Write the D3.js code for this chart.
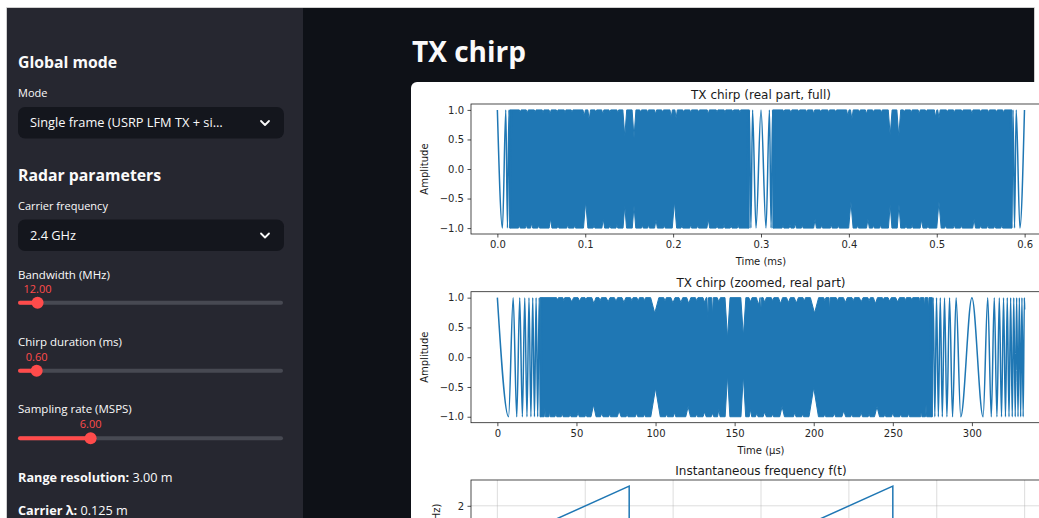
<!DOCTYPE html>
<html><head><meta charset="utf-8">
<script src="https://cdn.jsdelivr.net/npm/d3@7"></script>
<style>
html,body{margin:0;padding:0;background:#fff;overflow:hidden;}
svg{display:block;}
</style></head><body>
<svg id="root" width="1039" height="518"></svg>
<script>
// ================= DATA =================
const pageTitle = "TX chirp";
const sectionHeadings = ["Global mode", "Radar parameters"];
const selectLabels = ["Mode", "Carrier frequency"];
const selectValues = ["Single frame (USRP LFM TX + si…", "2.4 GHz"];
const sliderLabels = ["Bandwidth (MHz)", "Chirp duration (ms)", "Sampling rate (MSPS)"];
const sliderValues = [12.00, 0.60, 6.00];
const sliderMins = [1, 0.1, 1];
const sliderMaxs = [150, 7.2, 19.25];
const summaryKeys = ["Range resolution:", "Carrier λ:"];
const summaryValues = ["3.00 m", "0.125 m"];

const chartTitles = ["TX chirp (real part, full)", "TX chirp (zoomed, real part)", "Instantaneous frequency f(t)"];
const xAxisLabels = ["Time (ms)", "Time (µs)", "Time (ms)"];
const yAxisLabels = ["Amplitude", "Amplitude", "Frequency (MHz)"];
const fullTicksX = [0, 0.1, 0.2, 0.3, 0.4, 0.5, 0.6];
const zoomTicksX = [0, 50, 100, 150, 200, 250, 300];
const ampTicks = [-1, -0.5, 0, 0.5, 1];
const freqTicks = [-2, 0, 2];

// Chart 1: full chirp, time in ms (data 0 .. 0.6)
const fullExtent = [0, 0.6];
const fullDenseBands = [[0.0140, 0.2865], [0.3135, 0.5855]];
// [time, notch tip amplitude, notch half width] of white notches in the dense band
const fullTopNotches = [
  [0.026,0.96,0.001],[0.034,0.95,0.0012],[0.043,0.96,0.001],[0.052,0.95,0.001],[0.060,0.93,0.0012],
  [0.068,0.96,0.001],[0.077,0.95,0.001],[0.085,0.96,0.001],[0.0988,0.9,0.0014],[0.1045,0.83,0.0015],
  [0.112,0.96,0.001],[0.120,0.93,0.0012],[0.128,0.96,0.001],[0.137,0.95,0.001],[0.145,0.55,0.0022],
  [0.1555,0.53,0.0022],[0.163,0.96,0.001],[0.171,0.95,0.001],[0.180,0.93,0.0012],[0.188,0.96,0.001],
  [0.1978,0.88,0.0014],[0.2034,0.86,0.0014],[0.212,0.96,0.001],[0.220,0.95,0.001],[0.229,0.96,0.001],
  [0.240,0.93,0.0012],[0.250,0.96,0.001],[0.259,0.95,0.001],[0.268,0.96,0.001],[0.276,0.95,0.001],
  [0.326,0.96,0.001],[0.334,0.95,0.0012],[0.343,0.96,0.001],[0.352,0.95,0.001],[0.360,0.93,0.0012],
  [0.368,0.96,0.001],[0.377,0.95,0.001],[0.385,0.96,0.001],[0.3988,0.9,0.0014],[0.4034,0.84,0.0015],
  [0.412,0.96,0.001],[0.420,0.93,0.0012],[0.428,0.96,0.001],[0.437,0.95,0.001],[0.447,0.57,0.0022],
  [0.4568,0.55,0.0022],[0.463,0.96,0.001],[0.471,0.95,0.001],[0.480,0.93,0.0012],[0.488,0.96,0.001],
  [0.4987,0.88,0.0014],[0.5025,0.86,0.0014],[0.512,0.96,0.001],[0.520,0.95,0.001],[0.529,0.96,0.001],
  [0.540,0.93,0.0012],[0.550,0.96,0.001],[0.559,0.95,0.001],[0.568,0.96,0.001],[0.576,0.95,0.001]
];
const fullBottomNotches = [
  [0.025,-0.95,0.001],[0.033,-0.94,0.001],[0.039,-0.92,0.0012],[0.047,-0.95,0.001],[0.0605,-0.84,0.0016],
  [0.069,-0.95,0.001],[0.080,-0.94,0.001],[0.088,-0.95,0.001],[0.1005,-0.55,0.0025],[0.110,-0.95,0.001],
  [0.1205,-0.85,0.0016],[0.128,-0.95,0.001],[0.136,-0.94,0.001],[0.145,-0.62,0.002],[0.1555,-0.62,0.002],
  [0.165,-0.95,0.001],[0.172,-0.94,0.001],[0.1805,-0.86,0.0016],[0.190,-0.95,0.001],[0.2015,-0.55,0.0025],
  [0.210,-0.95,0.001],[0.220,-0.94,0.001],[0.228,-0.95,0.001],[0.240,-0.85,0.0016],[0.250,-0.95,0.001],
  [0.258,-0.94,0.001],[0.266,-0.95,0.001],[0.274,-0.94,0.001],
  [0.325,-0.95,0.001],[0.333,-0.94,0.001],[0.339,-0.92,0.0012],[0.347,-0.95,0.001],[0.3615,-0.85,0.0016],
  [0.369,-0.95,0.001],[0.380,-0.94,0.001],[0.388,-0.95,0.001],[0.4023,-0.55,0.0025],[0.410,-0.95,0.001],
  [0.4217,-0.85,0.0016],[0.428,-0.95,0.001],[0.436,-0.94,0.001],[0.447,-0.6,0.002],[0.457,-0.6,0.002],
  [0.465,-0.95,0.001],[0.472,-0.94,0.001],[0.4827,-0.86,0.0016],[0.490,-0.95,0.001],[0.5025,-0.55,0.0025],
  [0.510,-0.95,0.001],[0.520,-0.94,0.001],[0.528,-0.95,0.001],[0.5425,-0.85,0.0016],[0.550,-0.95,0.001],
  [0.558,-0.94,0.001],[0.566,-0.95,0.001],[0.574,-0.94,0.001]
];
// resolved oscillation extrema [time ms, amplitude] where the chirp is slow
const fullWaveStart = [[0,1],[0.0058,-1],[0.0096,1],[0.0115,-1],[0.0132,1],[0.0147,-1],[0.0160,1]];
const fullWaveMid = [[0.2840,1],[0.2853,-1],[0.2868,1],[0.2885,-1],[0.2904,1],[0.2943,-1],[0.3,1],[0.3057,-1],[0.3096,1],[0.3115,-1],[0.3132,1],[0.3147,-1],[0.3160,1]];
const fullWaveEnd = [[0.5840,1],[0.5853,-1],[0.5868,1],[0.5885,-1],[0.5904,1],[0.5946,-1],[0.59983,1]];

// Chart 2: zoomed chirp, time in µs (data 0 .. 333.3)
const zoomExtent = [0, 333.33];
const zoomDenseBands = [[27, 275]];
const zoomTopNotches = [
  [38,0.96,0.6],[42,0.95,0.6],[47,0.93,1.2],[52,0.94,1.0],[56,0.96,0.6],[61,0.90,1.3],[65,0.95,0.8],
  [70,0.93,1.2],[75,0.94,1.0],[80,0.92,1.2],[85,0.95,0.8],[89,0.94,0.8],[93,0.95,0.7],[99.5,0.74,2.6],
  [106,0.94,0.8],[111,0.91,1.3],[116,0.92,1.2],[121,0.9,1.3],[126,0.95,0.8],[131,0.92,1.0],[133,0.62,0.5],
  [136,0.7,0.5],[140,0.93,1.0],[145.5,0.32,1.6],[155.5,0.35,1.6],[160,0.93,1.0],[165,0.88,1.2],[166.5,0.75,0.5],
  [169,0.92,1.0],[174,0.95,0.8],[179,0.9,1.3],[184,0.92,1.2],[189,0.91,1.3],[194,0.94,0.8],[200.5,0.74,2.6],
  [207,0.95,0.7],[210,0.78,0.4],[215,0.95,0.8],[220,0.92,1.2],[225,0.95,0.8],[230,0.93,1.2],[235,0.95,0.8],
  [239,0.9,1.3],[244,0.96,0.6],[248,0.94,1.0],[253,0.93,1.2],[258,0.95,0.6],[262,0.96,0.6],[267,0.9,0.4],
  [270,0.85,0.4],[272.5,0.8,0.4]
];
const zoomBottomNotches = [
  [30,-0.85,0.4],[33,-0.9,0.4],
  [37,-0.95,0.6],[41,-0.94,0.6],[46,-0.96,0.6],[51,-0.93,0.8],[56,-0.95,0.6],[60.8,-0.8,1.6],[66,-0.94,0.8],
  [71,-0.95,0.6],[77,-0.9,1.2],[82,-0.95,0.6],[88,-0.94,0.8],[93,-0.95,0.6],[100,-0.52,3.0],[107,-0.95,0.6],
  [112,-0.93,0.8],[120.6,-0.83,1.5],[126,-0.95,0.6],[131,-0.92,1.0],[136,-0.94,0.8],[140,-0.88,0.8],
  [145.5,-0.3,1.5],[155.5,-0.3,1.5],[160,-0.88,0.8],[164,-0.94,0.8],[169,-0.92,1.0],[174,-0.95,0.6],
  [180,-0.83,1.5],[188,-0.93,0.8],[193,-0.95,0.6],[200,-0.51,3.0],[207,-0.95,0.6],[213,-0.94,0.8],
  [219,-0.9,1.2],[224,-0.95,0.6],[230,-0.93,0.8],[235,-0.95,0.6],[240,-0.83,1.6],[245,-0.95,0.6],
  [250,-0.93,0.8],[255,-0.95,0.6],[260,-0.94,0.6],[268,-0.88,0.4],[271,-0.8,0.4]
];
const zoomWaveStart = [[0,1],[7.07,-1],[10,1],[12.25,-1],[14.14,1],[15.81,-1],[17.32,1],[18.71,-1],[20,1],[21.21,-1],[22.36,1],[23.45,-1],[24.49,1],[25.5,-1],[26.46,1],[27.39,-1],[28.28,1]];
const zoomWaveEnd = [[273.54,1],[274.5,-1],[275.51,1],[276.55,-1],[277.64,1],[278.79,-1],[280,1],[281.29,-1],[282.68,1],[284.19,-1],[285.86,1],[287.75,-1],[290,1],[292.93,-1],[300,1],[307.07,-1],[310,1],[312.25,-1],[314.14,1],[315.81,-1],[317.32,1],[318.71,-1],[320,1],[321.21,-1],[322.36,1],[323.45,-1],[324.49,1],[325.5,-1],[326.46,1],[327.39,-1],[328.28,1],[329.15,-1],[330,1],[330.82,-1],[331.62,1],[332.4,-1],[333.17,1],[333.33,0.8]];

// Chart 3: instantaneous frequency (MHz) vs time (ms)
const freqTimes = [0, 0.15, 0.15, 0.45, 0.45, 0.6];
const freqValues = [0, 2.99, -2.99, 2.99, -2.99, 0];
const freqExtent = [-3, 3];

// ================= DRAWING =================
const W = 1039, H = 518;
const BLUE = "#1f77b4";
const UI = "'Open Sans','Noto Sans',sans-serif";
const MPL = "'DejaVu Sans',sans-serif";
const svg = d3.select("#root");

// page frame
svg.append("rect").attr("width", W).attr("height", H).attr("fill", "#fff");
svg.append("rect").attr("x", 303).attr("y", 8).attr("width", 731).attr("height", 510).attr("fill", "#0e1117");
svg.append("rect").attr("x", 7).attr("y", 8).attr("width", 296).attr("height", 510).attr("fill", "#262730");
svg.append("path").attr("d", "M6.5,518V7.5H1034.5V82").attr("fill", "none").attr("stroke", "#cfcfcf").attr("stroke-width", 1);

function text(g, x, y, s, size, opts = {}) {
  return g.append("text").attr("x", x).attr("y", y).text(s)
    .attr("font-family", opts.family || UI).attr("font-size", size)
    .attr("font-weight", opts.weight || 400).attr("fill", opts.fill || "#fafafa")
    .attr("text-anchor", opts.anchor || "start");
}

// ---- sidebar ----
const side = svg.append("g");
const headingY = [67.5, 180.5];
sectionHeadings.forEach((h, i) => text(side, 18, headingY[i], h, 15.8, {weight: 700}));
const selLabelY = [96.8, 209.9], selBoxY = [107, 219.5];
selectLabels.forEach((l, i) => {
  text(side, 18, selLabelY[i], l, 11);
  side.append("rect").attr("x", 18).attr("y", selBoxY[i]).attr("width", 266).attr("height", 31.5)
    .attr("rx", 7).attr("fill", "#14161d");
  text(side, 30, selBoxY[i] + 20, selectValues[i], 12.8);
  side.append("path").attr("d", `M${261},${selBoxY[i] + 14} l4,4 l4,-4`).attr("fill", "none")
    .attr("stroke", "#fafafa").attr("stroke-width", 1.8).attr("stroke-linecap", "round").attr("stroke-linejoin", "round");
});
const sliderLabelY = [278.8, 345.5, 412.8], sliderValY = [293, 360.5, 427.8], sliderTrackY = [302.7, 370.7, 438.3];
sliderLabels.forEach((l, i) => {
  const s = d3.scaleLinear().domain([sliderMins[i], sliderMaxs[i]]).range([18, 283]);
  text(side, 18, sliderLabelY[i], l, 11.5);
  side.append("rect").attr("x", 18).attr("y", sliderTrackY[i] - 2).attr("width", 265).attr("height", 4)
    .attr("rx", 2).attr("fill", "#474952");
  side.append("rect").attr("x", 18).attr("y", sliderTrackY[i] - 2).attr("width", s(sliderValues[i]) - 18).attr("height", 4)
    .attr("rx", 2).attr("fill", "#ff4b4b");
  side.append("circle").attr("cx", s(sliderValues[i])).attr("cy", sliderTrackY[i]).attr("r", 6).attr("fill", "#ff4b4b");
  text(side, s(sliderValues[i]), sliderValY[i], d3.format(".2f")(sliderValues[i]), 11, {anchor: "middle", fill: "#ff4b4b"});
});
const summaryY = [482, 514.5];
summaryKeys.forEach((k, i) => {
  const t = side.append("text").attr("x", 18).attr("y", summaryY[i]).attr("font-family", UI)
    .attr("font-size", 12.7).attr("fill", "#fafafa");
  t.append("tspan").attr("font-weight", 700).text(k);
  t.append("tspan").text(" " + summaryValues[i]);
});

// ---- main ----
text(svg, 412, 62, pageTitle, 28, {weight: 700});
svg.append("rect").attr("x", 411).attr("y", 82).attr("width", 700).attr("height", 500).attr("rx", 6).attr("fill", "#fff");

const X0 = 471, X1 = 1051;
const fmt1 = d3.format(".1f");

function styleAxis(g) {
  g.select(".domain").remove();
  g.selectAll(".tick line").attr("stroke", "#222").attr("stroke-width", 0.8);
  g.selectAll(".tick text").attr("font-family", MPL).attr("font-size", 10).attr("fill", "#262626");
}

function frame(top, bottom) {
  svg.append("rect").attr("x", X0).attr("y", top).attr("width", X1 - X0).attr("height", bottom - top)
    .attr("fill", "none").attr("stroke", "#222").attr("stroke-width", 0.8);
}

function waveChart(c) {
  const pad = (c.extent[1] - c.extent[0]) * 0.05;
  const x = d3.scaleLinear().domain([c.extent[0] - pad, c.extent[1] + pad]).range([X0, X1]);
  const y = d3.scaleLinear().domain([-1.1, 1.1]).range([c.bottom, c.top]);
  const g = svg.append("g");
  const poly = d3.line().x(d => x(d[0])).y(d => y(d[1]));
  c.bands.forEach(([t0, t1]) => {
    const top = [[t0, 1]];
    c.topN.filter(n => n[0] > t0 && n[0] < t1).sort((a, b) => a[0] - b[0])
      .forEach(([t, tip, hw]) => top.push([t - hw, 1], [t, tip], [t + hw, 1]));
    top.push([t1, 1]);
    const bot = [[t1, -1]];
    c.botN.filter(n => n[0] > t0 && n[0] < t1).sort((a, b) => b[0] - a[0])
      .forEach(([t, tip, hw]) => bot.push([t + hw, -1], [t, tip], [t - hw, -1]));
    bot.push([t0, -1]);
    g.append("path").attr("d", poly(top.concat(bot)) + "Z").attr("fill", BLUE)
      .attr("stroke", BLUE).attr("stroke-width", 1).attr("stroke-linejoin", "round");
  });
  const wave = d3.line().x(d => x(d[0])).y(d => y(d[1])).curve(d3.curveMonotoneX);
  c.waves.forEach(w => g.append("path").attr("d", wave(w)).attr("fill", "none")
    .attr("stroke", BLUE).attr("stroke-width", 1.5).attr("stroke-linejoin", "round"));
  frame(c.top, c.bottom);
  svg.append("g").attr("transform", `translate(0,${c.bottom})`)
    .call(d3.axisBottom(x).tickValues(c.xticks).tickFormat(c.xfmt).tickSize(3.5).tickPadding(3.5)).call(styleAxis);
  svg.append("g").attr("transform", `translate(${X0},0)`)
    .call(d3.axisLeft(y).tickValues(ampTicks).tickFormat(fmt1).tickSize(3.5).tickPadding(3.5)).call(styleAxis);
  const cx = (X0 + X1) / 2;
  text(svg, cx, c.top - 5, c.title, 12, {family: MPL, anchor: "middle", fill: "#1a1a1a"});
  text(svg, cx, c.bottom + 31, c.xlabel, 10, {family: MPL, anchor: "middle", fill: "#1a1a1a"});
  text(svg, 0, 0, c.ylabel, 10, {family: MPL, anchor: "middle", fill: "#1a1a1a"})
    .attr("transform", `translate(428,${(c.top + c.bottom) / 2}) rotate(-90)`);
}

waveChart({extent: fullExtent, top: 104, bottom: 234, bands: fullDenseBands, topN: fullTopNotches,
  botN: fullBottomNotches, waves: [fullWaveStart, fullWaveMid, fullWaveEnd], xticks: fullTicksX, xfmt: fmt1,
  title: chartTitles[0], xlabel: xAxisLabels[0], ylabel: yAxisLabels[0]});
waveChart({extent: zoomExtent, top: 291.7, bottom: 422.7, bands: zoomDenseBands, topN: zoomTopNotches,
  botN: zoomBottomNotches, waves: [zoomWaveStart, zoomWaveEnd], xticks: zoomTicksX, xfmt: d3.format("d"),
  title: chartTitles[1], xlabel: xAxisLabels[1], ylabel: yAxisLabels[1]});

// chart 3 (only its upper part falls inside the window)
(function () {
  const top = 480, bottom = 611;
  const padx = (fullExtent[1] - fullExtent[0]) * 0.05;
  const pady = (freqExtent[1] - freqExtent[0]) * 0.05;
  const x = d3.scaleLinear().domain([fullExtent[0] - padx, fullExtent[1] + padx]).range([X0, X1]);
  const y = d3.scaleLinear().domain([freqExtent[0] - pady, freqExtent[1] + pady]).range([bottom, top]);
  const g = svg.append("g");
  g.selectAll("line.vg").data(fullTicksX).join("line").attr("class", "vg")
    .attr("x1", d => x(d)).attr("x2", d => x(d)).attr("y1", top).attr("y2", bottom)
    .attr("stroke", "#b0b0b0").attr("stroke-opacity", 0.55).attr("stroke-width", 0.8);
  g.selectAll("line.hg").data(freqTicks).join("line").attr("class", "hg")
    .attr("x1", X0).attr("x2", X1).attr("y1", d => y(d)).attr("y2", d => y(d))
    .attr("stroke", "#b0b0b0").attr("stroke-opacity", 0.55).attr("stroke-width", 0.8);
  const pts = freqTimes.map((t, i) => [t, freqValues[i]]);
  g.append("path").attr("d", d3.line().x(d => x(d[0])).y(d => y(d[1]))(pts))
    .attr("fill", "none").attr("stroke", BLUE).attr("stroke-width", 1.5);
  frame(top, bottom);
  // y ticks whose labels lie inside the window
  const visibleTicks = freqTicks.filter(v => y(v) + 6 < H);
  svg.append("g").attr("transform", `translate(${X0},0)`)
    .call(d3.axisLeft(y).tickValues(visibleTicks).tickFormat(d3.format("d")).tickSize(3.5).tickPadding(3.5)).call(styleAxis);
  text(svg, (X0 + X1) / 2, top - 5, chartTitles[2], 12, {family: MPL, anchor: "middle", fill: "#1a1a1a"});
  text(svg, 0, 0, yAxisLabels[2], 10, {family: MPL, anchor: "middle", fill: "#1a1a1a"})
    .attr("transform", `translate(440,${(top + bottom) / 2}) rotate(-90)`);
})();
</script>
</body></html>
